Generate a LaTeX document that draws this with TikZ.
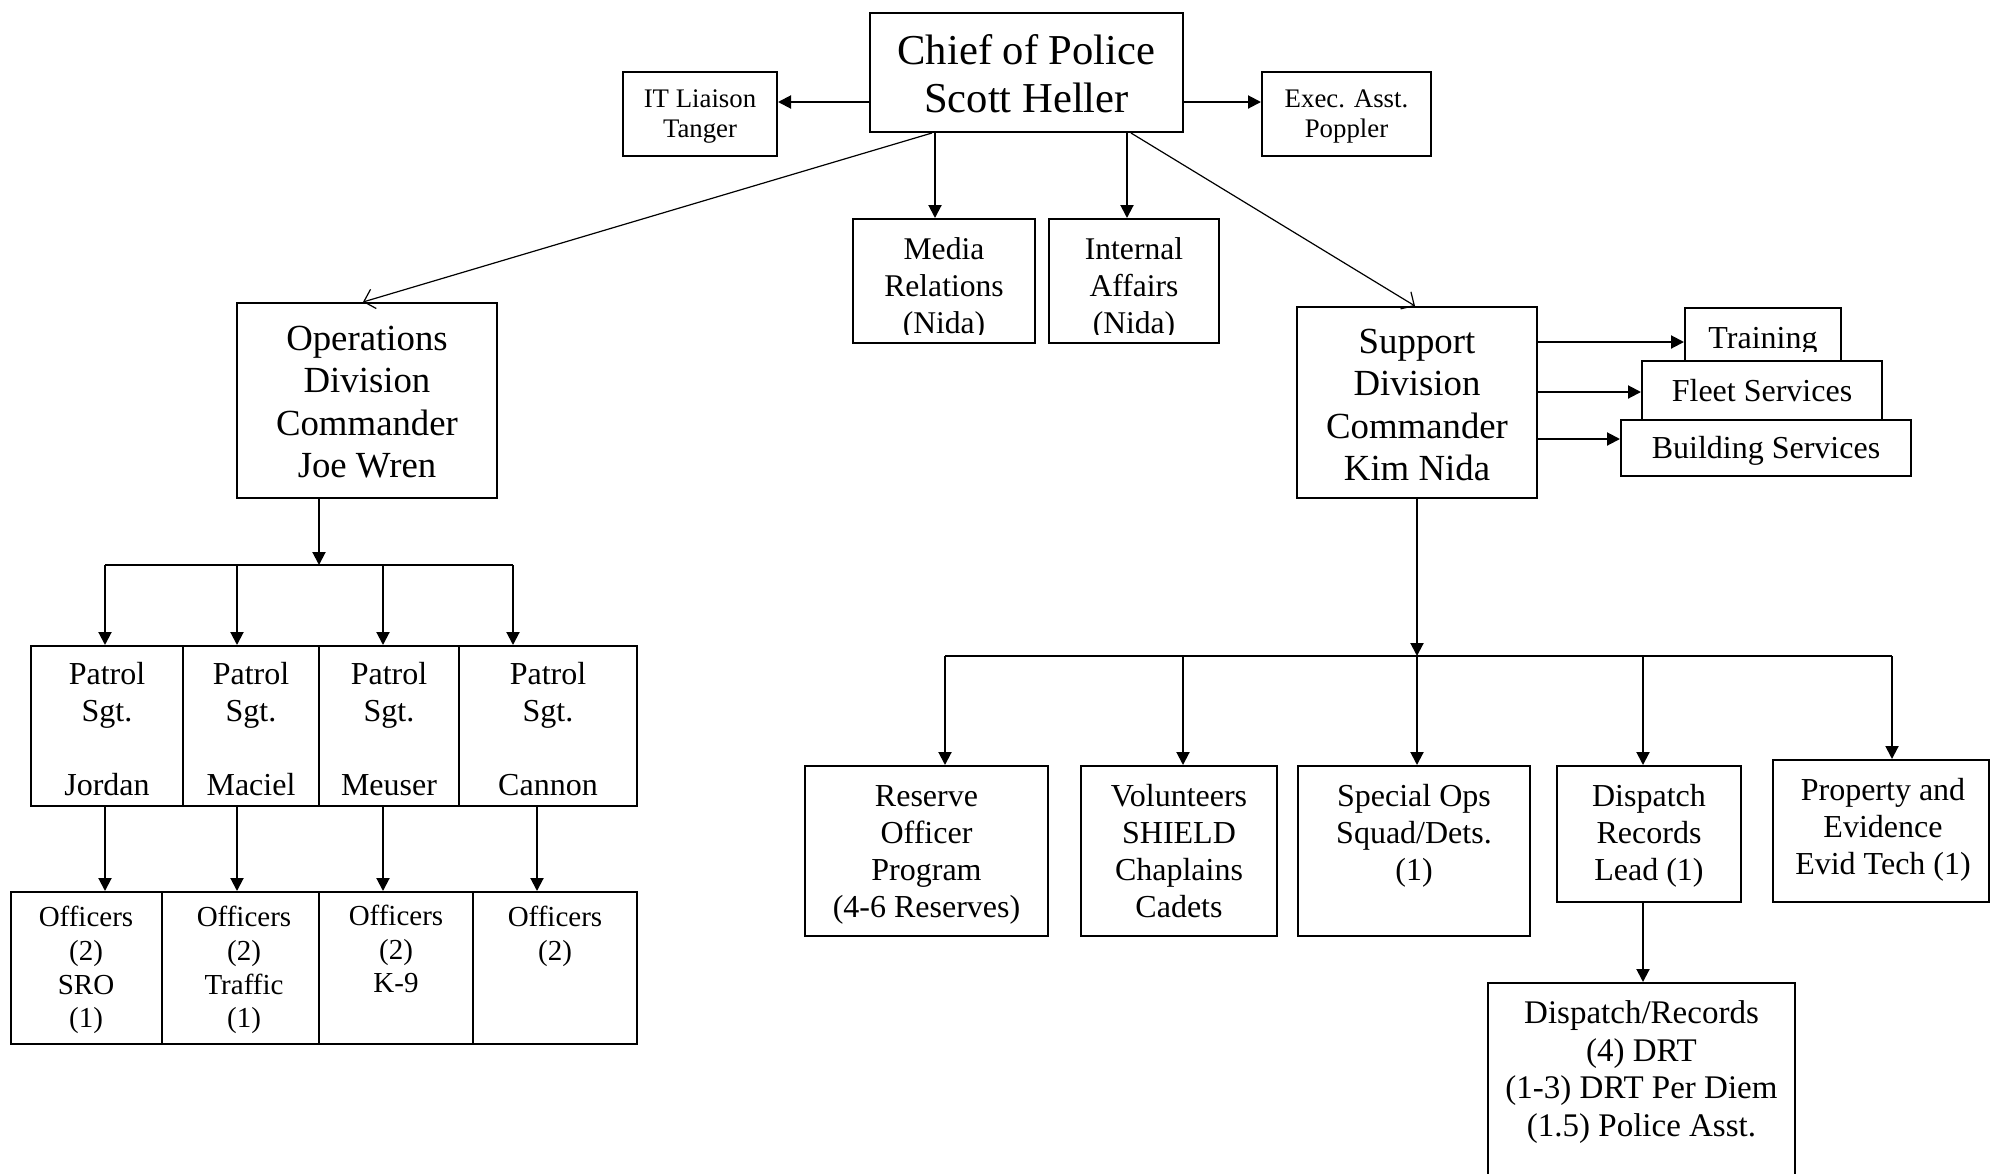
\documentclass[tikz,border=0pt]{standalone}
\usepackage{fontspec}
\setmainfont{Liberation Serif}
\usetikzlibrary{arrows.meta,fit}
\begin{document}
\begin{tikzpicture}[x=0.5pt,y=-0.5pt,
  box/.style={draw, line width=1pt, inner sep=0pt, fill=white},
  conn/.style={line width=1pt, -{Triangle[length=6.5pt,width=6.5pt]}},
  busline/.style={line width=1pt},
  diag/.style={line width=0.6pt, -{Straight Barb[length=5pt,width=10pt]}},
  txt/.style={align=center, inner sep=0pt},
  fChief/.style={txt, font=\fontsize{21.3pt}{24pt}\selectfont},
  fSmall/.style={txt, font=\fontsize{13.4pt}{15.2pt}\selectfont},
  fMed/.style={txt, font=\fontsize{15.8pt}{18.4pt}\selectfont},
  fDiv/.style={txt, font=\fontsize{18.4pt}{21.2pt}\selectfont},
  fSvc/.style={txt, font=\fontsize{16pt}{18.5pt}\selectfont},
  fPat/.style={txt, font=\fontsize{16pt}{18.5pt}\selectfont},
  fOff/.style={txt, font=\fontsize{14.5pt}{16.9pt}\selectfont},
  fLow/.style={txt, font=\fontsize{16pt}{18.5pt}\selectfont},
  fDR/.style={txt, font=\fontsize{16.5pt}{18.8pt}\selectfont}
]
\useasboundingbox (0,0) rectangle (1992,1173);
\fill[white] (0,0) rectangle (1992,1173);
\begin{scope}
\clip (0,0) rectangle (1992,1173);

% ---------- boxes ----------
\node[box, fit={(870,13) (1183,132)}] (chief) {};
\node[box, fit={(623,72) (777,156)}] (it) {};
\node[box, fit={(1262,72) (1431,156)}] (exec) {};
\node[box, fit={(853,219) (1035,343)}] (media) {};
\node[box, fit={(1049,219) (1219,343)}] (ia) {};
\node[box, fit={(237,303) (497,498)}] (ops) {};
\node[box, fit={(1297,307) (1537,498)}] (sup) {};

\node[box, fit={(1685,308) (1841,362)}] (train) {};
\begin{scope}
\clip (1685,308) rectangle (1841,351);
\node[fSvc] (ttrain) at (1763,341) {Training};
\end{scope}
\node[box, fit={(1642,361) (1882,420)}] (fleet) {};
\node[box, fit={(1621,420) (1911,476)}] (build) {};

\node[box, fit={(31,646) (183,806)}] (p1) {};
\node[box, fit={(183,646) (319,806)}] (p2) {};
\node[box, fit={(319,646) (459,806)}] (p3) {};
\node[box, fit={(459,646) (637,806)}] (p4) {};

\node[box, fit={(10.5,892) (162,1044)}] (o1) {};
\node[box, fit={(162,892) (319,1044)}] (o2) {};
\node[box, fit={(319,892) (473,1044)}] (o3) {};
\node[box, fit={(473,892) (637,1044)}] (o4) {};

\node[box, fit={(805,766) (1048,936)}] (res) {};
\node[box, fit={(1081,766) (1277,936)}] (vol) {};
\node[box, fit={(1297.5,766) (1530,936)}] (spec) {};
\node[box, fit={(1557,766) (1740.5,902)}] (disp) {};
\node[box, fit={(1773,760) (1989,902)}] (prop) {};
\node[box, fit={(1488,983) (1795,1195)}] (dr) {};

% ---------- texts ----------
\node[fChief] (tchief) at (1026.5,74) {Chief of Police\\Scott Heller};
\node[fSmall] (tit) at (700,116.5) {IT Liaison\\Tanger};
\node[fSmall] (texec) at (1346.5,116.5) {Exec. Asst.\\Poppler};
\begin{scope}
\clip (853,219) rectangle (1035,334);
\node[fMed] (tmedia) at (944,289) {Media\\Relations\\(Nida)};
\end{scope}
\begin{scope}
\clip (1049,219) rectangle (1219,334);
\node[fMed] (tia) at (1134,289) {Internal\\Affairs\\(Nida)};
\end{scope}
\node[fDiv] (tops) at (367,402) {Operations\\Division\\Commander\\Joe Wren};
\node[fDiv] (tsup) at (1417,405) {Support\\Division\\Commander\\Kim Nida};
\node[fSvc] (tfleet) at (1762,391) {Fleet Services};
\node[fSvc] (tbuild) at (1766,451) {Building Services};

\node[fPat] (tp1) at (107,729) {Patrol\\Sgt.\\\mbox{}\\Jordan};
\node[fPat] (tp2) at (251,729) {Patrol\\Sgt.\\\mbox{}\\Maciel};
\node[fPat] (tp3) at (389,729) {Patrol\\Sgt.\\\mbox{}\\Meuser};
\node[fPat] (tp4) at (548,729) {Patrol\\Sgt.\\\mbox{}\\Cannon};

\node[fOff] (to1) at (86,970) {Officers\\(2)\\SRO\\(1)};
\node[fOff] (to2) at (244,970) {Officers\\(2)\\Traffic\\(1)};
\node[fOff] (to3) at (396,949) {Officers\\(2)\\K-9};
\node[fOff] (to4) at (555,936) {Officers\\(2)};

\node[fLow] (tres) at (926.5,855) {Reserve\\Officer\\Program\\(4-6 Reserves)};
\node[fLow] (tvol) at (1179,851) {Volunteers\\SHIELD\\Chaplains\\Cadets};
\node[fLow] (tspec) at (1414,836) {Special Ops\\Squad/Dets.\\(1)};
\node[fLow] (tdisp) at (1649,836) {Dispatch\\Records\\Lead (1)};
\node[fLow] (tprop) at (1883,830) {Property and\\Evidence\\Evid Tech (1)};
\node[fDR] (tdr) at (1641.5,1072) {Dispatch/Records\\(4) DRT\\(1-3) DRT Per Diem\\(1.5) Police Asst.};

% ---------- connectors ----------
\coordinate (yA) at (0,102);
\draw[conn] (chief.west |- yA) -- (it.east |- yA);
\draw[conn] (chief.east |- yA) -- (exec.west |- yA);
\coordinate (xM) at (935,0);
\coordinate (xI) at (1127,0);
\draw[conn] (chief.south -| xM) -- (media.north -| xM);
\draw[conn] (chief.south -| xI) -- (ia.north -| xI);
\coordinate (dOs) at (932,0);
\coordinate (dOe) at (363,0);
\draw[diag] (chief.south -| dOs) -- (ops.north -| dOe);
\coordinate (dSs) at (1131,0);
\coordinate (dSe) at (1415,0);
\draw[diag] (chief.south -| dSs) -- (sup.north -| dSe);

\coordinate (yT) at (0,342);
\coordinate (yF) at (0,392);
\coordinate (yB) at (0,439);
\draw[conn] (sup.east |- yT) -- (train.west |- yT);
\draw[conn] (sup.east |- yF) -- (fleet.west |- yF);
\draw[conn] (sup.east |- yB) -- (build.west |- yB);

% operations bus
\coordinate (ob) at (319,565);
\coordinate (ob1) at (105,565);
\coordinate (ob2) at (237,565);
\coordinate (ob3) at (383,565);
\coordinate (ob4) at (513,565);
\draw[busline] (ob1) -- (ob4);
\draw[conn] (ops.south -| ob) -- (ob);
\draw[conn] (ob1) -- (p1.north -| ob1);
\draw[conn] (ob2) -- (p2.north -| ob2);
\draw[conn] (ob3) -- (p3.north -| ob3);
\draw[conn] (ob4) -- (p4.north -| ob4);

\coordinate (q1) at (105,0);
\coordinate (q2) at (237,0);
\coordinate (q3) at (383,0);
\coordinate (q4) at (537,0);
\draw[conn] (p1.south -| q1) -- (o1.north -| q1);
\draw[conn] (p2.south -| q2) -- (o2.north -| q2);
\draw[conn] (p3.south -| q3) -- (o3.north -| q3);
\draw[conn] (p4.south -| q4) -- (o4.north -| q4);

% support bus
\coordinate (sb) at (1417,656);
\coordinate (sb1) at (945,656);
\coordinate (sb2) at (1183,656);
\coordinate (sb4) at (1643,656);
\coordinate (sb5) at (1892,656);
\draw[busline] (sb1) -- (sb5);
\draw[conn] (sup.south -| sb) -- (sb);
\draw[conn] (sb) -- (spec.north -| sb);
\draw[conn] (sb1) -- (res.north -| sb1);
\draw[conn] (sb2) -- (vol.north -| sb2);
\draw[conn] (sb4) -- (disp.north -| sb4);
\draw[conn] (sb5) -- (prop.north -| sb5);

\coordinate (xd) at (1643,0);
\draw[conn] (disp.south -| xd) -- (dr.north -| xd);
\end{scope}
\end{tikzpicture}
\end{document}
